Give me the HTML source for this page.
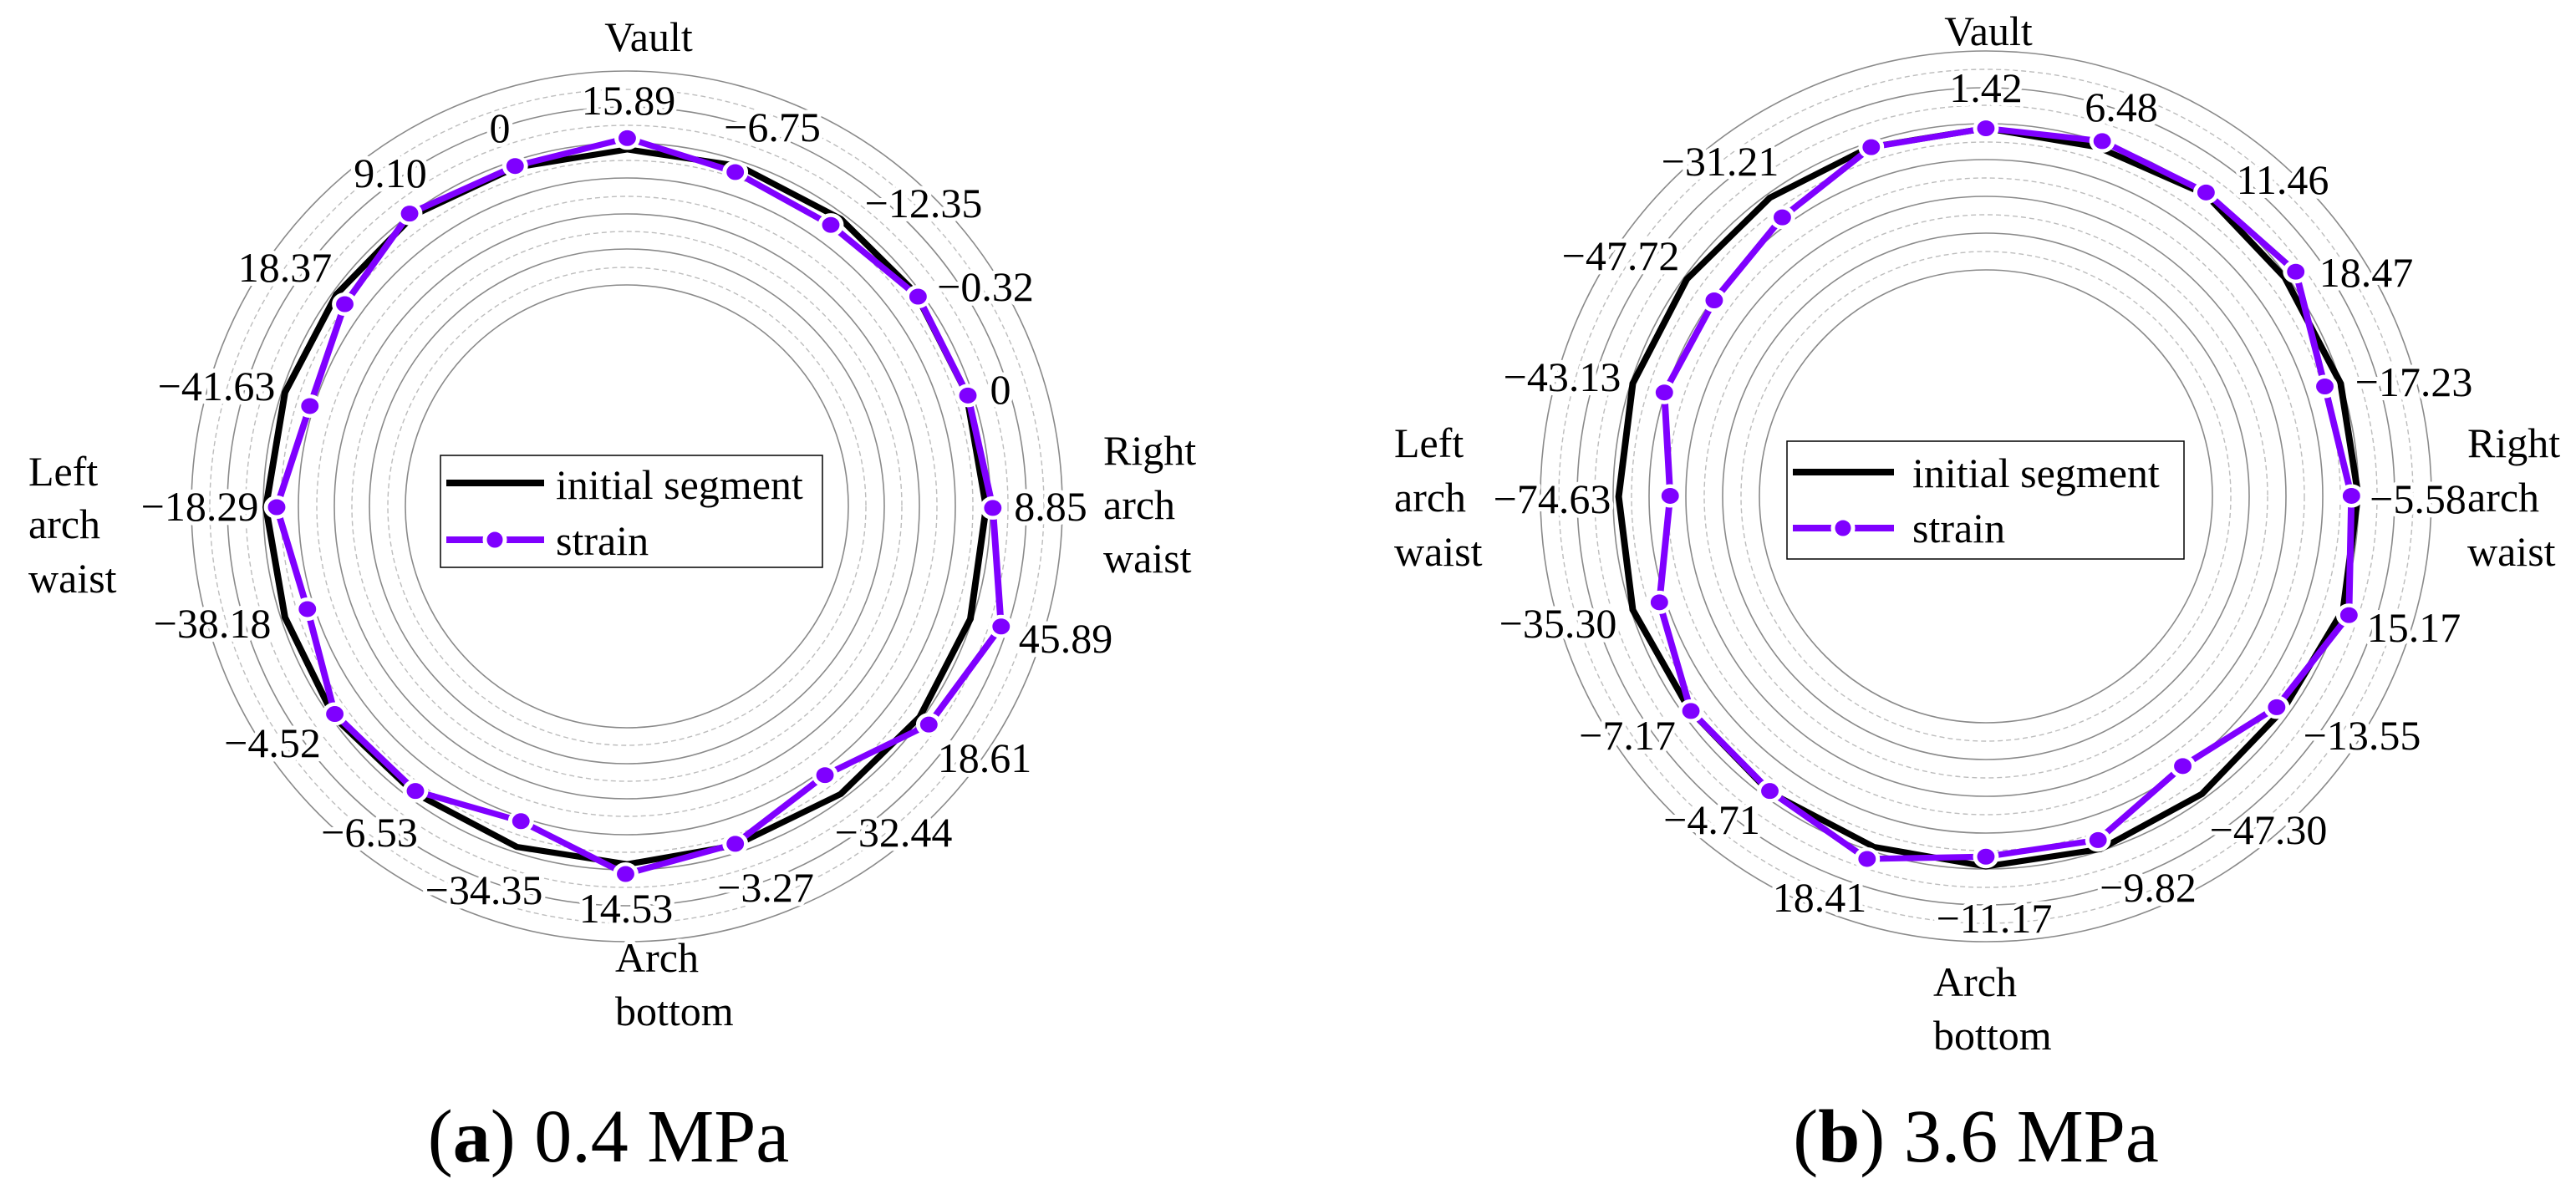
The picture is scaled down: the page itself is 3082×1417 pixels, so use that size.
<!DOCTYPE html>
<html><head><meta charset="utf-8"><style>
html,body{margin:0;padding:0;background:#fff}
svg{display:block;font-family:"Liberation Serif","DejaVu Serif",serif}
text{font-family:"Liberation Serif","DejaVu Serif",serif;font-size:50px;fill:#000}
.h{paint-order:stroke;stroke:#fff;stroke-width:10px;stroke-linejoin:round}
</style></head><body>
<svg width="3082" height="1417" viewBox="0 0 3082 1417" xmlns="http://www.w3.org/2000/svg" font-family="Liberation Serif, serif">
<g fill="none">
 <g stroke="#8a8a8a" stroke-width="1.6">
  <circle cx="750" cy="606" r="265"/><circle cx="750" cy="606" r="308"/><circle cx="750" cy="606" r="350"/><circle cx="750" cy="606" r="393"/><circle cx="750" cy="606" r="435"/><circle cx="750" cy="606" r="478"/><circle cx="750" cy="606" r="521"/>
 </g>
 <g stroke="#bdbdbd" stroke-width="1.4" stroke-dasharray="6,4">
  <circle cx="750" cy="606" r="286"/><circle cx="750" cy="606" r="329"/><circle cx="750" cy="606" r="371"/><circle cx="750" cy="606" r="414"/><circle cx="750" cy="606" r="456"/><circle cx="750" cy="606" r="499"/>
 </g>
 <g stroke="#8a8a8a" stroke-width="1.6">
  <circle cx="2376" cy="594" r="271"/><circle cx="2376" cy="594" r="315"/><circle cx="2376" cy="594" r="359"/><circle cx="2376" cy="594" r="403"/><circle cx="2376" cy="594" r="446"/><circle cx="2376" cy="594" r="489"/><circle cx="2376" cy="594" r="533"/>
 </g>
 <g stroke="#bdbdbd" stroke-width="1.4" stroke-dasharray="6,4">
  <circle cx="2376" cy="594" r="293"/><circle cx="2376" cy="594" r="337"/><circle cx="2376" cy="594" r="381"/><circle cx="2376" cy="594" r="424"/><circle cx="2376" cy="594" r="468"/><circle cx="2376" cy="594" r="511"/>
 </g>
</g>
<g text-anchor="middle">
 <text class="h" x="776" y="61">Vault</text>
 <text class="h" x="752" y="137">15.89</text>
 <text class="h" x="598" y="170">0</text>
 <text class="h" x="924" y="169">−6.75</text>
 <text class="h" x="467" y="224">9.10</text>
 <text class="h" x="1105" y="260">−12.35</text>
 <text class="h" x="341" y="337">18.37</text>
 <text class="h" x="1179" y="360">−0.32</text>
 <text class="h" x="259" y="479">−41.63</text>
 <text class="h" x="1197" y="483">0</text>
 <text class="h" x="239" y="623">−18.29</text>
 <text class="h" x="1257" y="623">8.85</text>
 <text class="h" x="254" y="763">−38.18</text>
 <text class="h" x="1275" y="781">45.89</text>
 <text class="h" x="326" y="906">−4.52</text>
 <text class="h" x="1178" y="924">18.61</text>
 <text class="h" x="442" y="1013">−6.53</text>
 <text class="h" x="1069" y="1013">−32.44</text>
 <text class="h" x="579" y="1082">−34.35</text>
 <text class="h" x="916" y="1079">−3.27</text>
 <text class="h" x="749" y="1104">14.53</text>
</g>
<g>
 <text class="h" x="34" y="581">Left</text><text class="h" x="34" y="644">arch</text><text class="h" x="34" y="709">waist</text>
 <text class="h" x="1320" y="556">Right</text><text class="h" x="1320" y="621">arch</text><text class="h" x="1320" y="685">waist</text>
 <text class="h" x="736" y="1163">Arch</text><text class="h" x="736" y="1227">bottom</text>
</g>
<g text-anchor="middle">
 <text class="h" x="2379" y="54">Vault</text>
 <text class="h" x="2376" y="122">1.42</text>
 <text class="h" x="2538" y="145">6.48</text>
 <text class="h" x="2058" y="210">−31.21</text>
 <text class="h" x="2731" y="232">11.46</text>
 <text class="h" x="1939" y="323">−47.72</text>
 <text class="h" x="2831" y="343">18.47</text>
 <text class="h" x="1869" y="468">−43.13</text>
 <text class="h" x="2888" y="474">−17.23</text>
 <text class="h" x="1857" y="614">−74.63</text>
 <text class="h" x="2893" y="614">−5.58</text>
 <text class="h" x="1864" y="763">−35.30</text>
 <text class="h" x="2888" y="768">15.17</text>
 <text class="h" x="1947" y="897">−7.17</text>
 <text class="h" x="2826" y="897">−13.55</text>
 <text class="h" x="2048" y="998">−4.71</text>
 <text class="h" x="2714" y="1010">−47.30</text>
 <text class="h" x="2177" y="1091">18.41</text>
 <text class="h" x="2570" y="1079">−9.82</text>
 <text class="h" x="2386" y="1116">−11.17</text>
</g>
<g>
 <text class="h" x="1668" y="547">Left</text><text class="h" x="1668" y="612">arch</text><text class="h" x="1668" y="677">waist</text>
 <text class="h" x="2952" y="547">Right</text><text class="h" x="2952" y="612">arch</text><text class="h" x="2952" y="677">waist</text>
 <text class="h" x="2313" y="1192">Arch</text><text class="h" x="2313" y="1256">bottom</text>
</g>
<g transform="matrix(0.994 0 0 0.9033 0 0)">
 <polygon fill="none" stroke="#000" stroke-width="8" points="755,198 890,220 1012,290 1102,388 1163,520 1187,672 1168,820 1107,950 1012,1052 885,1120 755,1145 622,1122 498,1050 402,950 343,818 320,672 343,520 405,390 498,285 620,222"/>
 <polygon fill="none" stroke="#7f00ff" stroke-width="8" points="755,183 885,228 1000,298 1105,393 1165,524 1195,673 1205,830 1118,960 993,1027 885,1118 753,1158 627,1088 500,1048 403,946 370,807 333,672 373,538 415,403 493,283 620,220"/>
 <g fill="#7f00ff" stroke="#fff" stroke-width="5">
  <circle cx="755" cy="183" r="13"/><circle cx="885" cy="228" r="13"/><circle cx="1000" cy="298" r="13"/><circle cx="1105" cy="393" r="13"/><circle cx="1165" cy="524" r="13"/><circle cx="1195" cy="673" r="13"/><circle cx="1205" cy="830" r="13"/><circle cx="1118" cy="960" r="13"/><circle cx="993" cy="1027" r="13"/><circle cx="885" cy="1118" r="13"/><circle cx="753" cy="1158" r="13"/><circle cx="627" cy="1088" r="13"/><circle cx="500" cy="1048" r="13"/><circle cx="403" cy="946" r="13"/><circle cx="370" cy="807" r="13"/><circle cx="333" cy="672" r="13"/><circle cx="373" cy="538" r="13"/><circle cx="415" cy="403" r="13"/><circle cx="493" cy="283" r="13"/><circle cx="620" cy="220" r="13"/>
 </g>
</g>
<g transform="matrix(0.994 0 0 0.9033 1541 0)">
 <polygon fill="none" stroke="#000" stroke-width="8" points="840,170 975,195 1105,258 1200,368 1267,508 1288,655 1270,808 1198,940 1100,1052 978,1125 840,1148 705,1122 580,1050 483,940 415,808 398,658 415,508 480,370 580,262 700,195"/>
 <polygon fill="none" stroke="#7f00ff" stroke-width="8" points="840,170 980,187 1105,255 1213,360 1248,512 1280,657 1277,815 1190,937 1077,1015 975,1113 840,1135 697,1138 580,1048 485,942 447,798 460,657 453,520 513,398 595,288 702,195"/>
 <g fill="#7f00ff" stroke="#fff" stroke-width="5">
  <circle cx="840" cy="170" r="13"/><circle cx="980" cy="187" r="13"/><circle cx="1105" cy="255" r="13"/><circle cx="1213" cy="360" r="13"/><circle cx="1248" cy="512" r="13"/><circle cx="1280" cy="657" r="13"/><circle cx="1277" cy="815" r="13"/><circle cx="1190" cy="937" r="13"/><circle cx="1077" cy="1015" r="13"/><circle cx="975" cy="1113" r="13"/><circle cx="840" cy="1135" r="13"/><circle cx="697" cy="1138" r="13"/><circle cx="580" cy="1048" r="13"/><circle cx="485" cy="942" r="13"/><circle cx="447" cy="798" r="13"/><circle cx="460" cy="657" r="13"/><circle cx="453" cy="520" r="13"/><circle cx="513" cy="398" r="13"/><circle cx="595" cy="288" r="13"/><circle cx="702" cy="195" r="13"/>
 </g>
</g>
<rect x="527" y="545" width="457" height="134" fill="#fff" stroke="#000" stroke-width="1.5"/>
<line x1="534" y1="578" x2="651" y2="578" stroke="#000" stroke-width="8"/>
<line x1="534" y1="646" x2="651" y2="646" stroke="#7f00ff" stroke-width="8"/>
<circle cx="592" cy="646" r="12" fill="#7f00ff" stroke="#fff" stroke-width="5"/>
<text x="665" y="597">initial segment</text>
<text x="665" y="664">strain</text>
<rect x="2138" y="528" width="475" height="141" fill="#fff" stroke="#000" stroke-width="1.5"/>
<line x1="2145" y1="565" x2="2266" y2="565" stroke="#000" stroke-width="8"/>
<line x1="2145" y1="632" x2="2266" y2="632" stroke="#7f00ff" stroke-width="8"/>
<circle cx="2205" cy="632" r="12" fill="#7f00ff" stroke="#fff" stroke-width="5"/>
<text x="2288" y="583">initial segment</text>
<text x="2288" y="649">strain</text>
<text x="728" y="1390" text-anchor="middle" style="font-size:90px">(<tspan font-weight="bold">a</tspan>) 0.4 MPa</text>
<text x="2364" y="1390" text-anchor="middle" style="font-size:90px">(<tspan font-weight="bold">b</tspan>) 3.6 MPa</text>
</svg>
</body></html>
